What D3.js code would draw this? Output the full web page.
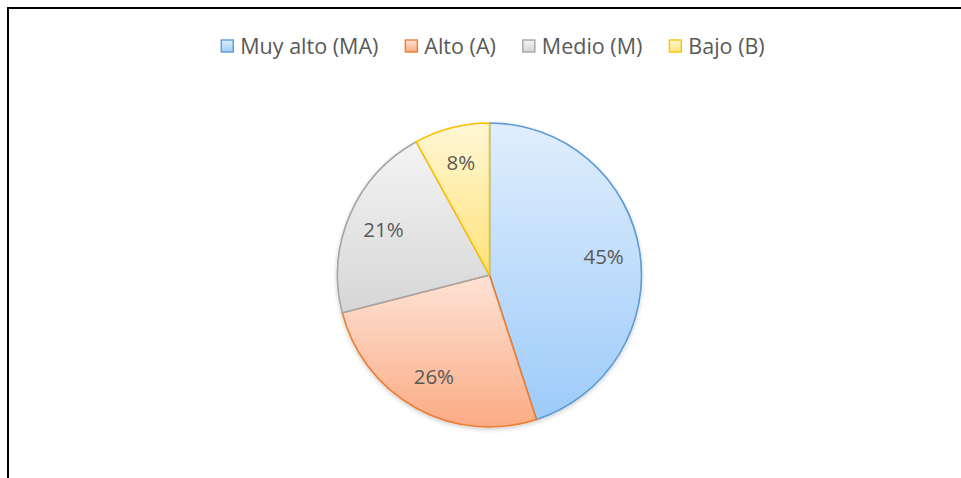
<!DOCTYPE html>
<html>
<head>
<meta charset="utf-8">
<script src="https://cdn.jsdelivr.net/npm/d3@7/dist/d3.min.js"></script>
<style>
  html, body { margin: 0; padding: 0; background: #fff; }
  svg { display: block; }
</style>
</head>
<body>
<svg id="chart" width="961" height="478"></svg>
<script>
// Nivel categories and their share (%)
const categories = ["Muy alto (MA)", "Alto (A)", "Medio (M)", "Bajo (B)"];
const values = [45, 26, 21, 8];
const labels = ["45%", "26%", "21%", "8%"];

// Per-category styling: outline, gradient top and bottom
const strokeColors = ["#5b9bd5", "#ed7d31", "#a5a5a5", "#ffc000"];
const gradTop = ["#e0eefc", "#fde3d6", "#f4f4f4", "#fff7d6"];
const gradBottom = ["#9dcbfa", "#fbab84", "#d6d6d6", "#ffe27a"];

const W = 961, H = 478;
const svg = d3.select("#chart");
const defs = svg.append("defs");
const font = "'Open Sans', sans-serif";
const textColor = "#595959";

categories.forEach((c, i) => {
  const g = defs.append("linearGradient")
    .attr("id", "grad" + i)
    .attr("x1", 0).attr("y1", 0).attr("x2", 0).attr("y2", 1);
  g.append("stop").attr("offset", "0%").attr("stop-color", gradTop[i]);
  g.append("stop").attr("offset", "100%").attr("stop-color", gradBottom[i]);
});

const shadow = defs.append("filter").attr("id", "shadow")
  .attr("x", "-10%").attr("y", "-10%").attr("width", "120%").attr("height", "125%");
shadow.append("feDropShadow")
  .attr("dx", 0).attr("dy", 2).attr("stdDeviation", 2)
  .attr("flood-color", "#000").attr("flood-opacity", 0.18);

// Frame (top and left edges visible)
svg.append("line").attr("x1", 8).attr("y1", 8).attr("x2", W).attr("y2", 8)
  .attr("stroke", "#000").attr("stroke-width", 2);
svg.append("line").attr("x1", 8).attr("y1", 7).attr("x2", 8).attr("y2", H)
  .attr("stroke", "#000").attr("stroke-width", 2);

// Pie
const cx = 489.5, cy = 275, R = 152;
const pie = d3.pie().sort(null).value(d => d)(values);
const arc = d3.arc().innerRadius(0).outerRadius(R);
const labelArc = d3.arc().innerRadius(R * 0.76).outerRadius(R * 0.76);

const gp = svg.append("g").attr("transform", `translate(${cx},${cy})`);
gp.append("g").attr("filter", "url(#shadow)")
  .selectAll("path").data(pie).join("path")
  .attr("d", arc)
  .attr("fill", (d, i) => `url(#grad${i})`)
  .attr("stroke", (d, i) => strokeColors[i])
  .attr("stroke-width", 1.6)
  .attr("stroke-linejoin", "round");

const labelSize = 20.5;
gp.selectAll("text.lbl").data(pie).join("text")
  .attr("class", "lbl")
  .attr("transform", d => {
    const [x, y] = labelArc.centroid(d);
    return `translate(${x},${y + labelSize * 0.36})`;
  })
  .attr("text-anchor", "middle")
  .attr("font-family", font)
  .attr("font-size", labelSize)
  .attr("fill", textColor)
  .text((d, i) => labels[i]);

// Legend
const legend = svg.append("g");
const sq = 12, gapText = 7, gapItem = 27, ly = 46;
const items = legend.selectAll("g").data(categories).join("g");
items.append("rect")
  .attr("width", sq).attr("height", sq)
  .attr("y", ly - sq / 2)
  .attr("fill", (d, i) => `url(#grad${i})`)
  .attr("stroke", (d, i) => strokeColors[i])
  .attr("stroke-width", 1.4);
items.append("text")
  .attr("x", sq + gapText)
  .attr("y", ly + 7.6)
  .attr("font-family", font)
  .attr("font-size", 21.5)
  .attr("fill", textColor)
  .text(d => d);

const widths = [];
items.each(function () {
  widths.push(sq + gapText + this.querySelector("text").getComputedTextLength());
});
const total = d3.sum(widths) + gapItem * (widths.length - 1);
const startX = (216 + 770) / 2 - total / 2;
let x = 0;
items.attr("transform", (d, i) => {
  const t = `translate(${startX + x},0)`;
  x += widths[i] + gapItem;
  return t;
});
</script>
</body>
</html>
